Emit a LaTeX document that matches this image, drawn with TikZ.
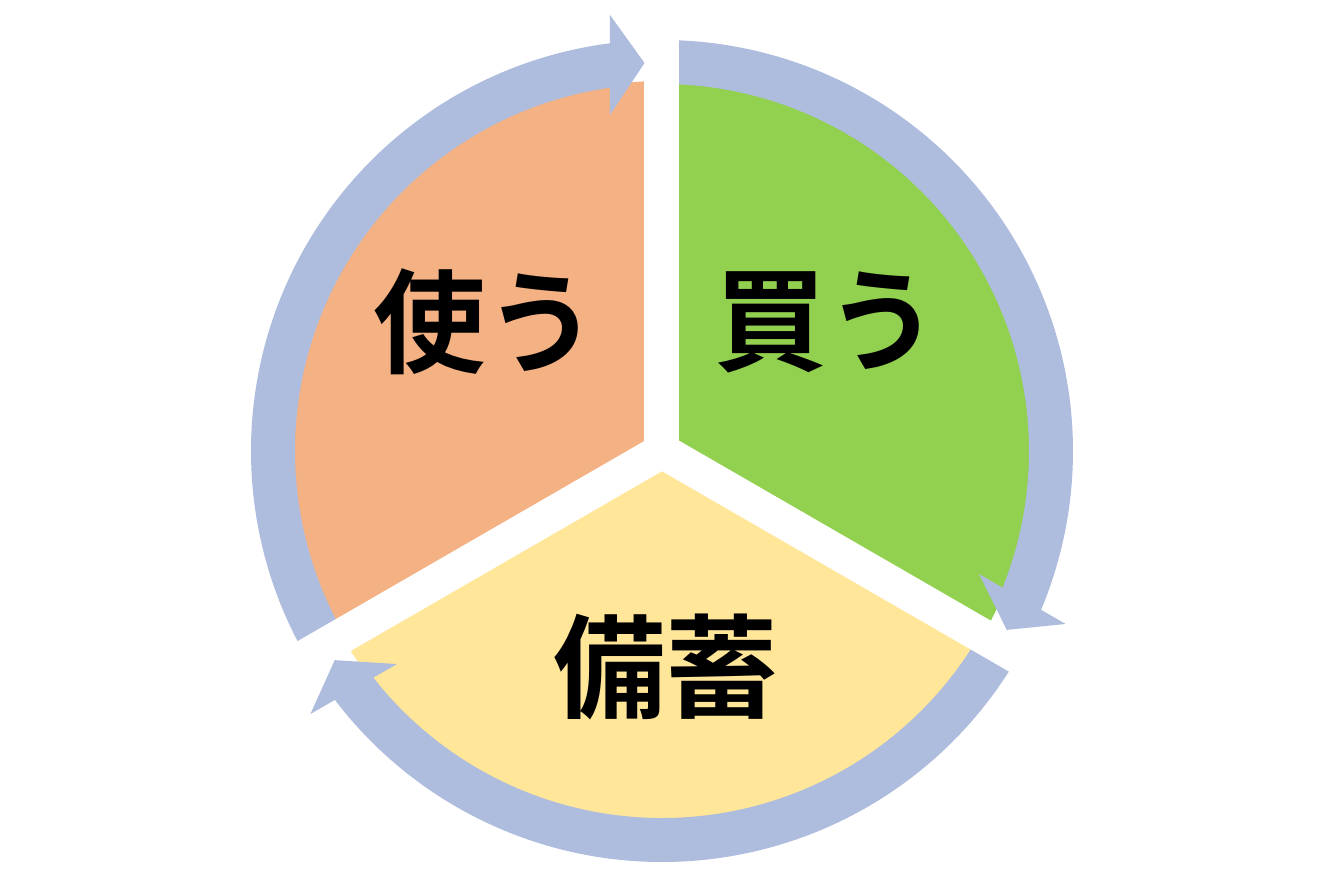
\documentclass[tikz,border=0pt]{standalone}
\usepackage{fontspec}
\newfontfamily\cjk{Noto Sans CJK JP}[BoldFont={Noto Sans CJK JP Bold}]
\definecolor{orangec}{HTML}{F4B183}
\definecolor{greenc}{HTML}{92D050}
\definecolor{yellowc}{HTML}{FFE699}
\definecolor{ringc}{HTML}{AEBCDE}
\tikzset{
  lbl/.style={inner sep=0pt, font=\cjk\bfseries\fontsize{64}{64}\selectfont, text=black},
  gapline/.style={draw=white, line width=0.7cm},
  arrowtip/.style={fill=ringc}
}
\begin{document}
\begin{tikzpicture}[x=0.02cm,y=0.02cm]
\useasboundingbox (-662,-429) rectangle (658,451);
\fill[white] (-662,-429) rectangle (658,451);
\coordinate (c) at (0,0);
% pie slices
\fill[orangec] (c) -- (90:370) arc[start angle=90, end angle=210, radius=370] -- cycle;
\fill[greenc] (c) -- (-30:370) arc[start angle=-30, end angle=90, radius=370] -- cycle;
\fill[yellowc] (c) -- (210:370) arc[start angle=210, end angle=330, radius=370] -- cycle;
% ring bodies
\fill[ringc] (90:411) arc[start angle=90, end angle=-23, radius=411] -- (-23:367) arc[start angle=-23, end angle=90, radius=367] -- cycle;
\fill[ringc] (-30:411) arc[start angle=-30, end angle=-143, radius=411] -- (-143:367) arc[start angle=-143, end angle=-30, radius=367] -- cycle;
\fill[ringc] (210:411) arc[start angle=210, end angle=97, radius=411] -- (97:367) arc[start angle=97, end angle=210, radius=367] -- cycle;
% white gaps
\draw[gapline] (c) -- (90:450);
\draw[gapline] (c) -- (210:450);
\draw[gapline] (c) -- (-30:450);
% arrow heads
\begin{scope}[rotate=0]
\fill[arrowtip] (-17.5,388) -- (-52,436) -- (-52,336) -- cycle;
\end{scope}
\begin{scope}[rotate=-120]
\fill[arrowtip] (-17.5,388) -- (-52,436) -- (-52,336) -- cycle;
\end{scope}
\begin{scope}[rotate=120]
\fill[arrowtip] (-17.5,388) -- (-52,436) -- (-52,336) -- cycle;
\end{scope}
% labels
\node[lbl] (use) at (-176,129) {使う};
\node[lbl] (buy) at (165,129) {買う};
\node[lbl] (stock) at (4,-216) {備蓄};
\end{tikzpicture}
\end{document}
